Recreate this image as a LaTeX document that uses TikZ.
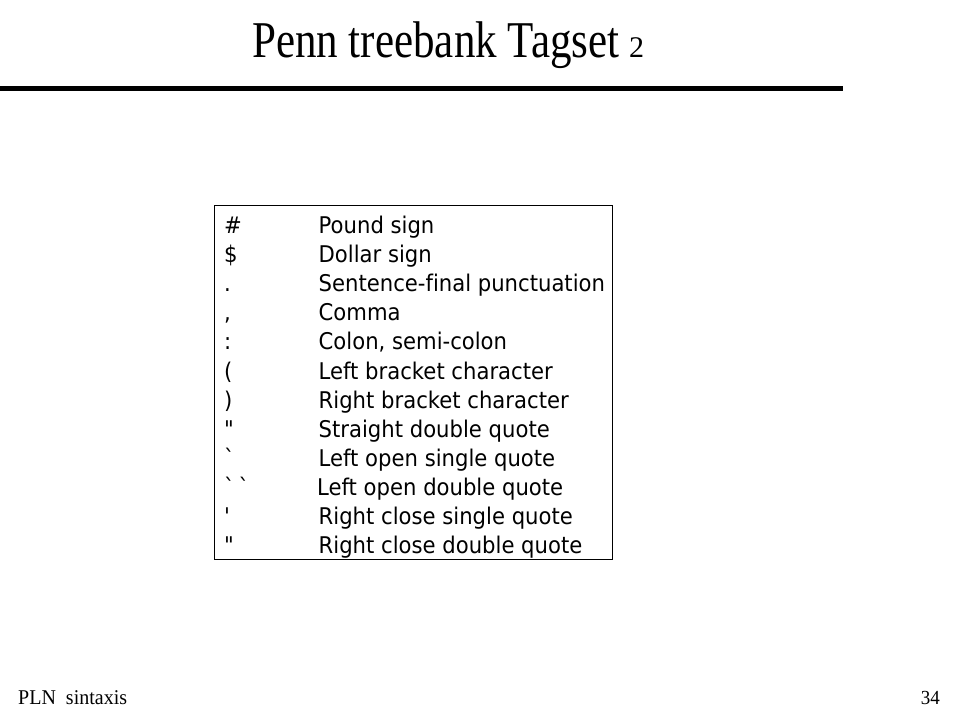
\documentclass[tikz,border=0pt]{standalone}
\usepackage{fontspec}
\setmainfont{Liberation Serif}
\newfontfamily\tahfont[FakeStretch=0.92,Ligatures=NoCommon]{DejaVu Sans}
\begin{document}
\begin{tikzpicture}[x=1pt,y=-1pt,
  sym/.style={anchor=base west,inner sep=0pt,font=\tahfont\fontsize{23}{27}\selectfont},
  desc/.style={anchor=base west,inner sep=0pt,font=\tahfont\fontsize{23}{27}\selectfont},
  tagbox/.style={draw,line width=1pt,inner sep=0pt,minimum width=398pt,minimum height=354pt},
  rule/.style={line width=5.3pt}]
\useasboundingbox[fill=white] (0,0) rectangle (960,720);
% title
\node (title) [anchor=base west,inner sep=0pt] at (252,57.5)
  {\scalebox{1}[1.2]{\fontsize{43}{50}\selectfont Penn treebank Tagset}};
\node (sub) [anchor=base west,inner sep=0pt] at (629,57.5)
  {\fontsize{30}{36}\selectfont 2};
% rule
\coordinate (l1) at (0,88.3);
\coordinate (l2) at (843.3,88.3);
\draw[rule] (l1) -- (l2);
% box
\node (box) [tagbox] at (413.3,382.3) {};
% rows
\def\rowy#1{233.7+29.07*#1}
\node (s1) [sym] at (224,{\rowy{0}}) {\#};
\node (d1) [desc] at (318.5,{\rowy{0}}) {Pound sign};
\node (s2) [sym] at (224,{\rowy{1}}) {\$};
\node (d2) [desc] at (318.5,{\rowy{1}}) {Dollar sign};
\node (s3) [sym] at (224,{\rowy{2}}) {.};
\node (d3) [desc] at (318.5,{\rowy{2}}) {Sentence-final punctuation};
\node (s4) [sym] at (224,{\rowy{3}}) {,};
\node (d4) [desc] at (318.5,{\rowy{3}}) {Comma};
\node (s5) [sym] at (224,{\rowy{4}}) {:};
\node (d5) [desc] at (318.5,{\rowy{4}}) {Colon, semi-colon};
\node (s6) [sym] at (224,{\rowy{5}}) {(};
\node (d6) [desc] at (318.5,{\rowy{5}}) {Left bracket character};
\node (s7) [sym] at (224,{\rowy{6}}) {)};
\node (d7) [desc] at (318.5,{\rowy{6}}) {Right bracket character};
\node (s8) [sym] at (224,{\rowy{7}}) {\symbol{34}};
\node (d8) [desc] at (318.5,{\rowy{7}}) {Straight double quote};
\node (s9) [sym] at (224,{\rowy{8}}) {\symbol{96}};
\node (d9) [desc] at (318.5,{\rowy{8}}) {Left open single quote};
\node (s10) [sym] at (224,{\rowy{9}}) {\symbol{96}\,\symbol{96}};
\node (d10) [desc] at (317,{\rowy{9}}) {Left open double quote};
\node (s11) [sym] at (224,{\rowy{10}}) {\symbol{39}};
\node (d11) [desc] at (318.5,{\rowy{10}}) {Right close single quote};
\node (s12) [sym] at (224,{\rowy{11}}) {\symbol{34}};
\node (d12) [desc] at (318.5,{\rowy{11}}) {Right close double quote};
% footer
\node (foot) [anchor=base west,inner sep=0pt] at (18,704)
  {\scalebox{1}[1.05]{\fontsize{20}{24}\selectfont PLN\ \ sintaxis}};
\node (page) [anchor=base east,inner sep=0pt] at (940,704)
  {\scalebox{1}[1.05]{\fontsize{19}{24}\selectfont 34}};
\end{tikzpicture}
\end{document}
